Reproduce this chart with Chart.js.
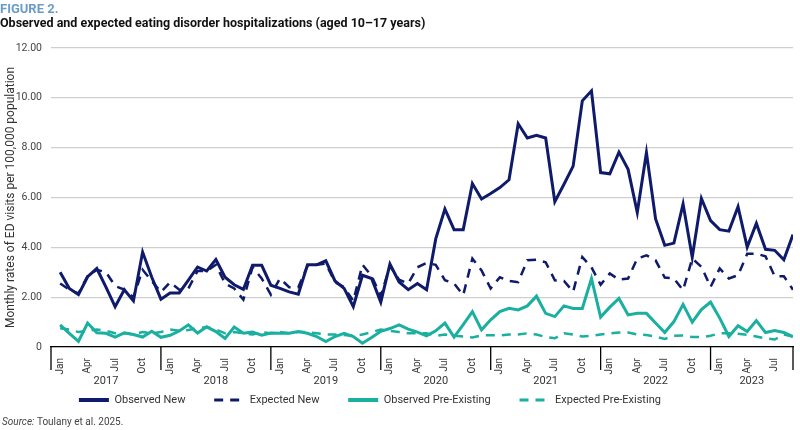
<!DOCTYPE html>
<html>
<head>
<meta charset="utf-8">
<script src="https://cdn.jsdelivr.net/npm/chart.js@4.4.1/dist/chart.umd.min.js"></script>
<style>
  html, body { margin: 0; padding: 0; background: #fff; }
  #wrap { width: 800px; height: 430px; }
</style>
</head>
<body>
<div id="wrap"><canvas id="ed-chart"></canvas></div>
<script>
    "use strict";

    // categories
    const monthNames = ['Jan', 'Feb', 'Mar', 'Apr', 'May', 'Jun', 'Jul', 'Aug', 'Sep', 'Oct', 'Nov', 'Dec'];
    const years = ['2017', '2018', '2019', '2020', '2021', '2022', '2023'];
    const monthCount = 81; // Jan 2017 .. Sep 2023
    const tickMonths = ['Jan', 'Apr', 'Jul', 'Oct'];

    // series values (monthly rates per 100,000)
    const observedNew = [
        3.00, 2.35, 2.10, 2.82, 3.15, 2.40, 1.62, 2.30, 1.85, 3.81, 2.80, 1.92,
        2.17, 2.17, 2.68, 3.21, 3.05, 3.51, 2.80, 2.50, 2.31, 3.28, 3.28, 2.48,
        2.35, 2.21, 2.12, 3.30, 3.30, 3.46, 2.65, 2.35, 1.62, 2.88, 2.75, 1.80,
        3.33, 2.61, 2.30, 2.55, 2.30, 4.34, 5.54, 4.71, 4.71, 6.56, 5.94, 6.16,
        6.40, 6.71, 8.96, 8.39, 8.50, 8.39, 5.83, 6.53, 7.26, 9.88, 10.28, 7.00,
        6.95, 7.82, 7.13, 5.40, 7.80, 5.14, 4.08, 4.17, 5.74, 3.60, 5.96, 5.07,
        4.71, 4.65, 5.63, 4.01, 4.96, 3.92, 3.88, 3.50, 4.51
    ];
    const expectedNew = [
        2.55, 2.30, 2.15, 2.85, 3.10, 3.00, 2.45, 2.30, 2.00, 3.10, 2.65, 2.20,
        2.60, 2.30, 2.35, 3.05, 3.05, 3.30, 2.55, 2.35, 1.90, 3.20, 2.75, 2.10,
        2.75, 2.40, 2.40, 3.25, 3.30, 3.35, 2.60, 2.40, 1.85, 3.30, 2.85, 2.05,
        3.25, 2.70, 2.55, 3.20, 3.37, 3.30, 2.68, 2.55, 2.08, 3.55, 3.07, 2.35,
        2.80, 2.65, 2.60, 3.48, 3.50, 3.40, 2.68, 2.65, 2.22, 3.61, 3.20, 2.50,
        2.95, 2.70, 2.75, 3.55, 3.68, 3.48, 2.79, 2.75, 2.28, 3.55, 3.22, 2.41,
        3.15, 2.75, 2.88, 3.74, 3.74, 3.64, 2.84, 2.84, 2.30
    ];
    const observedPre = [
        0.89, 0.55, 0.23, 0.96, 0.57, 0.55, 0.40, 0.57, 0.50, 0.40, 0.63, 0.39,
        0.47, 0.64, 0.89, 0.56, 0.81, 0.62, 0.34, 0.80, 0.55, 0.60, 0.47, 0.56,
        0.55, 0.55, 0.62, 0.55, 0.42, 0.22, 0.42, 0.55, 0.42, 0.15, 0.38, 0.63,
        0.74, 0.89, 0.72, 0.60, 0.45, 0.65, 0.96, 0.40, 0.90, 1.42, 0.69, 1.09,
        1.42, 1.55, 1.49, 1.65, 2.04, 1.35, 1.22, 1.65, 1.55, 1.55, 2.75, 1.20,
        1.60, 1.95, 1.29, 1.35, 1.35, 0.96, 0.58, 1.02, 1.71, 1.00, 1.50, 1.80,
        1.16, 0.42, 0.85, 0.62, 1.06, 0.58, 0.66, 0.58, 0.42
    ];
    const expectedPre = [
        0.75, 0.70, 0.60, 0.65, 0.70, 0.65, 0.55, 0.55, 0.50, 0.60, 0.55, 0.60,
        0.70, 0.65, 0.68, 0.75, 0.80, 0.70, 0.55, 0.60, 0.55, 0.50, 0.60, 0.55,
        0.60, 0.55, 0.60, 0.60, 0.55, 0.50, 0.50, 0.48, 0.45, 0.50, 0.60, 0.70,
        0.65, 0.60, 0.55, 0.55, 0.55, 0.45, 0.50, 0.45, 0.42, 0.38, 0.47, 0.47,
        0.47, 0.50, 0.50, 0.55, 0.50, 0.40, 0.35, 0.55, 0.50, 0.42, 0.45, 0.50,
        0.55, 0.58, 0.58, 0.50, 0.48, 0.42, 0.32, 0.45, 0.46, 0.40, 0.40, 0.45,
        0.55, 0.55, 0.53, 0.49, 0.42, 0.35, 0.30, 0.50, 0.42
    ];

    // y tick values
    const yTicks = [0, 2, 4, 6, 8, 10, 12];

    const navy = '#0f1a6b';
    const teal = '#1aaf9f';
    const fontFamily = 'Roboto, "Liberation Sans", sans-serif';

    const monthLabels = [];
    for (let i = 0; i < monthCount; i++) monthLabels.push(monthNames[i % 12]);

    const toPoints = (arr) => arr.map((v, i) => ({x: i, y: v}));

    // year boxes under the month labels + source line
    const yearBoxes = {
        id: 'yearBoxes',
        afterLayout(chart) {
            // legend sits a bit left of centre in the original
            chart.legend.right -= 42;
        },
        afterDraw(chart) {
            const {ctx, chartArea, scales} = chart;
            const x = scales.x;
            const top = chartArea.bottom;
            const bottom = top + 23;
            ctx.save();
            ctx.strokeStyle = '#000';
            ctx.lineWidth = 1.3;
            ctx.fillStyle = '#333';
            ctx.font = '11px ' + fontFamily;
            ctx.textAlign = 'center';
            ctx.textBaseline = 'middle';
            years.forEach((yr, k) => {
                const start = k * 12 - 1;
                const end = Math.min(k * 12 + 11, monthCount - 1);
                const x0 = x.getPixelForValue(start);
                const x1 = x.getPixelForValue(end);
                ctx.beginPath();
                ctx.moveTo(x0, top);
                ctx.lineTo(x0, bottom);
                if (end === monthCount - 1) {
                    ctx.moveTo(x1, top);
                    ctx.lineTo(x1, bottom);
                }
                ctx.stroke();
                ctx.fillText(yr, (x0 + x1) / 2, top + 34);
            });
            ctx.textAlign = 'left';
            ctx.fillStyle = '#444';
            ctx.font = 'italic 10px ' + fontFamily;
            ctx.fillText('Source:', 2, 422);
            const w = ctx.measureText('Source: ').width;
            ctx.font = '10px ' + fontFamily;
            ctx.fillText('Toulany et al. 2025.', 2 + w, 422);
            ctx.restore();
        }
    };

    let edChart = document.getElementById('ed-chart');
    new Chart(edChart, {
        type: 'line',
        data: {
            datasets: [{
                label: 'Observed New',
                data: toPoints(observedNew),
                borderColor: navy,
                backgroundColor: navy,
                borderWidth: 3,
                pointRadius: 0,
                lineTension: 0
            }, {
                label: 'Expected New',
                data: toPoints(expectedNew),
                borderColor: navy,
                backgroundColor: navy,
                borderWidth: 2.5,
                borderDash: [9, 7],
                pointRadius: 0,
                lineTension: 0
            }, {
                label: 'Observed Pre-Existing',
                data: toPoints(observedPre),
                borderColor: teal,
                backgroundColor: teal,
                borderWidth: 3,
                pointRadius: 0,
                lineTension: 0
            }, {
                label: 'Expected Pre-Existing',
                data: toPoints(expectedPre),
                borderColor: teal,
                backgroundColor: teal,
                borderWidth: 2.5,
                borderDash: [9, 7],
                pointRadius: 0,
                lineTension: 0
            }]
        },
        options: {
            responsive: true,
            maintainAspectRatio: false,
            animation: false,
            layout: {
                padding: {left: 0, right: 7, top: 0, bottom: 14.5}
            },
            plugins: {
                title: {
                    display: true,
                    text: 'FIGURE 2.',
                    align: 'start',
                    color: '#6b9cc6',
                    font: {family: fontFamily, size: 13, weight: 'bold', lineHeight: 1.0},
                    padding: {top: 3, bottom: 0}
                },
                subtitle: {
                    display: true,
                    text: 'Observed and expected eating disorder hospitalizations (aged 10\u201317 years)',
                    align: 'start',
                    color: '#111',
                    font: {family: fontFamily, size: 12.5, weight: 'bold', lineHeight: 1.2},
                    padding: {top: 0, bottom: 17}
                },
                legend: {
                    position: 'bottom',
                    labels: {
                        usePointStyle: true,
                        pointStyle: 'line',
                        pointStyleWidth: 30,
                        boxHeight: 11,
                        padding: 17.5,
                        color: '#333',
                        font: {family: fontFamily, size: 11},
                        generateLabels: (chart) => Chart.defaults.plugins.legend.labels.generateLabels(chart).map(item => {
                            const ds = chart.data.datasets[item.datasetIndex];
                            item.text = item.text + '\u2002\u2002';
                            item.lineDash = ds.borderDash || [];
                            item.lineWidth = ds.borderDash ? 3 : 4;
                            item.pointStyle = 'line';
                            return item;
                        })
                    }
                },
                tooltip: {
                    enabled: false
                }
            },
            scales: {
                x: {
                    type: 'linear',
                    min: -1,
                    max: monthCount - 1,
                    grid: {
                        display: false
                    },
                    border: {
                        display: true,
                        color: '#000',
                        width: 1.3
                    },
                    afterBuildTicks: (scale) => {
                        scale.ticks = monthLabels
                            .map((m, i) => ({value: i, m: m}))
                            .filter(t => tickMonths.includes(t.m))
                            .map(t => ({value: t.value}));
                    },
                    afterFit: (scale) => {
                        scale.height = 30;
                    },
                    ticks: {
                        autoSkip: false,
                        minRotation: 90,
                        maxRotation: 90,
                        padding: 3,
                        color: '#333',
                        font: {family: fontFamily, size: 10},
                        callback: (v) => monthLabels[v]
                    }
                },
                y: {
                    min: 0,
                    max: 12,
                    afterBuildTicks: (scale) => {
                        scale.ticks = yTicks.map(v => ({value: v}));
                    },
                    afterFit: (scale) => {
                        scale.width = 51;
                    },
                    grid: {
                        color: '#cfcfcf',
                        lineWidth: 1.2,
                        drawTicks: false
                    },
                    border: {
                        display: false
                    },
                    title: {
                        display: true,
                        text: 'Monthly rates of ED visits per 100,000 population',
                        color: '#333',
                        font: {family: fontFamily, size: 12}
                    },
                    ticks: {
                        padding: 9,
                        color: '#444',
                        font: {family: fontFamily, size: 10.5},
                        callback: (v) => v === 0 ? '0' : v.toFixed(2)
                    }
                }
            }
        },
        plugins: [yearBoxes]
    });
</script>
</body>
</html>
